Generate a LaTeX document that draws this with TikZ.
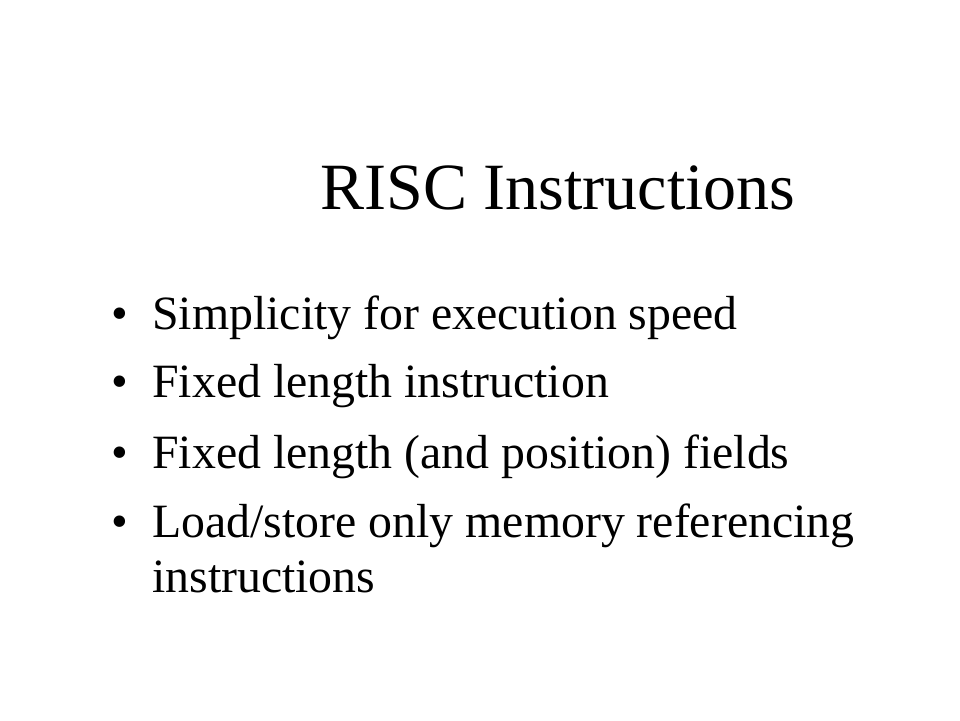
\documentclass[tikz,border=0pt]{standalone}
\usepackage{fontspec}
\setmainfont{Liberation Serif}
\usepackage{xcolor}
\usepackage{tikz}
\usetikzlibrary{positioning}

\begin{document}
\begin{tikzpicture}[
    heading/.style={
        anchor=base west,
        inner sep=0pt,
        font=\fontsize{47}{50}\selectfont
    },
    item/.style={
        anchor=base west,
        inner sep=0pt,
        font=\fontsize{34}{39}\selectfont
    },
    dot/.style={
        anchor=base,
        inner sep=0pt,
        font=\fontsize{34}{39}\selectfont
    }
]
\useasboundingbox[fill=white] (0,0) rectangle (24,18);

\node[heading] (title) at (8.0,12.775) {RISC Instructions};

% Bullets
\node[dot] (dot1) at (3.0,9.775) {\textbullet};
\node[item] (item1) at (3.8,9.775) {Simplicity for execution speed};

\node[dot] (dot2) at (3.0,8.075) {\textbullet};
\node[item] (item2) at (3.8,8.075) {Fixed length instruction};

\node[dot] (dot3) at (3.0,6.3) {\textbullet};
\node[item] (item3) at (3.8,6.3) {Fixed length (and position) fields};

\node[dot] (dot4) at (3.0,4.575) {\textbullet};
\node[item] (item4) at (3.8,4.575) {Load/store only memory referencing};
\node[item] (item4b) at (3.8,3.2) {instructions};

\end{tikzpicture}
\end{document}
